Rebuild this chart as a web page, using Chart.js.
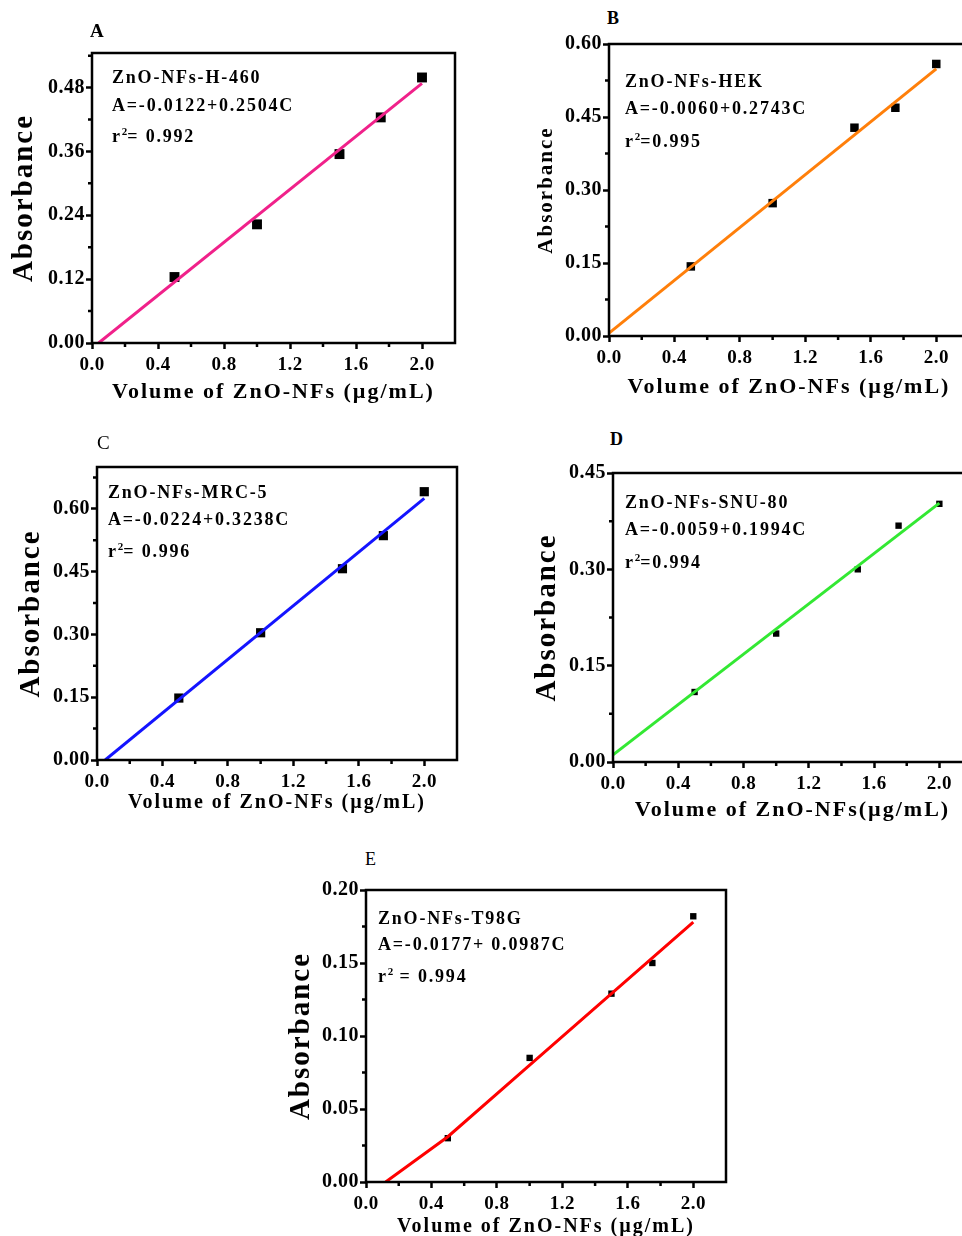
<!DOCTYPE html>
<html>
<head>
<meta charset="utf-8">
<title>ZnO-NFs calibration curves</title>
<script src="https://cdn.jsdelivr.net/npm/chart.js@4.4.1/dist/chart.umd.min.js"></script>
<style>
  body {
    margin: 0;
    width: 962px;
    height: 1236px;
    overflow: hidden;
    position: relative;
    background: #fff;
    font-family: "Liberation Serif", "Times New Roman", serif;
    color: #000;
  }
  .panel { position: absolute; }
  .tag { position: absolute; line-height: 20px; }
  .note {
    position: absolute;
    font-size: 18px;
    font-weight: bold;
    letter-spacing: 1.8px;
    line-height: 22px;
    white-space: nowrap;
  }
  .note sup { font-size: 11px; line-height: 0; vertical-align: 7px; letter-spacing: 0; }
</style>
</head>
<body>
<script>
// Doses shared by every panel (x axis)
const doses = [0.5, 1.0, 1.5, 1.75, 2.0];
const xTickLabels = ['0.0', '0.4', '0.8', '1.2', '1.6', '2.0'];

// Measured absorbance per cell line
const absH460 = [0.124, 0.223, 0.355, 0.424, 0.499];
const absHEK = [0.143, 0.273, 0.428, 0.469, 0.559];
const absMRC5 = [0.148, 0.304, 0.457, 0.536, 0.641];
const absSNU80 = [0.109, 0.200, 0.300, 0.368, 0.402];
const absT98G = [0.030, 0.085, 0.129, 0.150, 0.182];

// Fitted lines
const fitXH460 = [0.04, 2.0];
const fitYH460 = [0, 0.488];
const fitXHEK = [0, 2.0];
const fitYHEK = [0.006, 0.549];
const fitXMRC5 = [0.05, 2.0];
const fitYMRC5 = [0, 0.625];
const fitXSNU80 = [0, 2.0];
const fitYSNU80 = [0.011, 0.403];
const fitXT98G = [0.12, 0.5, 1.0, 2.0];
const fitYT98G = [0, 0.031, 0.080, 0.178];

// Y tick labels per panel
const yTicksH460 = ['0.00', '0.12', '0.24', '0.36', '0.48'];
const yTicksHEK = ['0.00', '0.15', '0.30', '0.45', '0.60'];
const yTicksMRC5 = ['0.00', '0.15', '0.30', '0.45', '0.60'];
const yTicksSNU80 = ['0.00', '0.15', '0.30', '0.45'];
const yTicksT98G = ['0.00', '0.05', '0.10', '0.15', '0.20'];

const FONT = '"Liberation Serif", "Times New Roman", serif';

// Layout of each panel on the page
const panels = [
  {
    tag: 'A', tagX: 90, tagY: 31, tagSize: 19, tagWeight: 'bold',
    box: [0, 40, 463, 370], axisW: 92, axisH: 67, padTop: 12, padRight: 8,
    yMax: 0.545, yStep: 0.06, yTicks: yTicksH460,
    yTitleSize: 29, yTitlePad: 7.6,
    xTitle: 'Volume of ZnO-NFs (µg/mL)', xTitleSize: 22, xTitlePad: 4.8,
    abs: absH460, fitX: fitXH460, fitY: fitYH460, color: '#f0218a', markR: 7,
    noteX: 112, noteY: [77, 105, 136],
    notes: ['ZnO-NFs-H-460', 'A=-0.0122+0.2504C', 'r<sup>2</sup>= 0.992']
  },
  {
    tag: 'B', tagX: 607, tagY: 18, tagSize: 18, tagWeight: 'bold',
    box: [525, 31, 452, 374], axisW: 84, axisH: 69, padTop: 12, padRight: 8,
    yMax: 0.60, yStep: 0.075, yTicks: yTicksHEK,
    yTitleSize: 21, yTitlePad: 9.4,
    xTitle: 'Volume of ZnO-NFs (µg/mL)', xTitleSize: 22, xTitlePad: 4.8,
    abs: absHEK, fitX: fitXHEK, fitY: fitYHEK, color: '#ff7f0a', markR: 6,
    noteX: 625, noteY: [81, 108, 141],
    notes: ['ZnO-NFs-HEK', 'A=-0.0060+0.2743C', 'r<sup>2</sup>=0.995']
  },
  {
    tag: 'C', tagX: 97, tagY: 443, tagSize: 19, tagWeight: 'normal',
    box: [0, 454, 465, 366], axisW: 97, axisH: 60, padTop: 12, padRight: 8,
    yMax: 0.70, yStep: 0.075, yTicks: yTicksMRC5,
    yTitleSize: 29, yTitlePad: 14.6,
    xTitle: 'Volume of ZnO-NFs (µg/mL)', xTitleSize: 20, xTitlePad: 5,
    abs: absMRC5, fitX: fitXMRC5, fitY: fitYMRC5, color: '#1414ff', markR: 6.5,
    noteX: 108, noteY: [492, 519, 551],
    notes: ['ZnO-NFs-MRC-5', 'A=-0.0224+0.3238C', 'r<sup>2</sup>= 0.996']
  },
  {
    tag: 'D', tagX: 610, tagY: 439, tagSize: 18, tagWeight: 'bold',
    box: [520, 460, 460, 368], axisW: 93, axisH: 66, padTop: 12, padRight: 8,
    yMax: 0.45, yStep: 0.075, yTicks: yTicksSNU80,
    yTitleSize: 29, yTitlePad: 10.6,
    xTitle: 'Volume of ZnO-NFs(µg/mL)', xTitleSize: 22, xTitlePad: 4.8,
    abs: absSNU80, fitX: fitXSNU80, fitY: fitYSNU80, color: '#33e833', markR: 4.5,
    noteX: 625, noteY: [502, 529, 562],
    notes: ['ZnO-NFs-SNU-80', 'A=-0.0059+0.1994C', 'r<sup>2</sup>=0.994']
  },
  {
    tag: 'E', tagX: 365, tagY: 859, tagSize: 18, tagWeight: 'normal',
    box: [280, 877, 454, 365], axisW: 86, axisH: 60, padTop: 12, padRight: 8,
    yMax: 0.20, yStep: 0.025, yTicks: yTicksT98G,
    yTitleSize: 29, yTitlePad: 4.6,
    xTitle: 'Volume of ZnO-NFs (µg/mL)', xTitleSize: 20, xTitlePad: 3,
    abs: absT98G, fitX: fitXT98G, fitY: fitYT98G, color: '#ff0000', markR: 4.5,
    noteX: 378, noteY: [918, 944, 976],
    notes: ['ZnO-NFs-T98G', 'A=-0.0177+ 0.0987C', 'r<sup>2</sup> = 0.994']
  }
];

// Letter spacing for titles and tick labels, frame box, short minor ticks
const framePlugin = {
  id: 'framePlugin',
  beforeDraw(chart) {
    chart.ctx.letterSpacing = '2px';
  },
  afterDatasetsDraw(chart) {
    // tick labels sit on a higher layer, drawn after this
    chart.ctx.letterSpacing = '0.5px';
  },
  afterDraw(chart) {
    const ctx = chart.ctx;
    const area = chart.chartArea;
    ctx.save();
    ctx.letterSpacing = '0px';
    ctx.strokeStyle = '#000';
    ctx.lineWidth = 2.5;
    ctx.strokeRect(area.left, area.top, area.right - area.left, area.bottom - area.top);

    ctx.lineWidth = 2.5;
    ctx.beginPath();
    [chart.scales.x, chart.scales.y].forEach((scale) => {
      const eps = (scale.max - scale.min) / 1000;
      scale.ticks.forEach((tick) => {
        if (tick.label !== '' || tick.value <= scale.min + eps || tick.value >= scale.max - eps) return;
        const p = scale.getPixelForValue(tick.value);
        if (scale.axis === 'x') {
          ctx.moveTo(p, area.bottom);
          ctx.lineTo(p, area.bottom + 4);
        } else {
          ctx.moveTo(area.left, p);
          ctx.lineTo(area.left - 4, p);
        }
      });
    });
    ctx.stroke();
    ctx.restore();
  }
};

function addText(cls, x, y, html, style) {
  const el = document.createElement('div');
  el.className = cls;
  el.style.left = x + 'px';
  el.style.top = y + 'px';
  Object.assign(el.style, style || {});
  el.innerHTML = html;
  document.body.appendChild(el);
}

function makePanel(p) {
  const [left, top, width, height] = p.box;
  const holder = document.createElement('div');
  holder.className = 'panel';
  holder.style.left = left + 'px';
  holder.style.top = top + 'px';
  holder.style.width = width + 'px';
  holder.style.height = height + 'px';
  const canvas = document.createElement('canvas');
  holder.appendChild(canvas);
  document.body.appendChild(holder);

  const points = doses.map((x, i) => ({ x: x, y: p.abs[i] }));
  const fit = p.fitX.map((x, i) => ({ x: x, y: p.fitY[i] }));
  const tickFont = (size) => ({ family: FONT, size: size, weight: 'bold', lineHeight: 1.2 });
  const majorColor = (c) => (c.tick && c.tick.label !== '' ? '#000' : 'rgba(0,0,0,0)');

  new Chart(canvas, {
    type: 'scatter',
    data: {
      datasets: [
        {
          label: 'fit',
          data: fit,
          showLine: true,
          borderColor: p.color,
          borderWidth: 3,
          pointRadius: 0,
          tension: 0,
          order: 0
        },
        {
          label: 'measured',
          data: points,
          pointStyle: 'rect',
          pointRadius: p.markR,
          pointBackgroundColor: '#000',
          pointBorderColor: '#000',
          pointBorderWidth: 0,
          order: 1
        }
      ]
    },
    options: {
      responsive: true,
      maintainAspectRatio: false,
      animation: false,
      layout: { padding: { left: 0, top: p.padTop, right: p.padRight, bottom: 0 } },
      plugins: {
        legend: { display: false },
        tooltip: { enabled: false }
      },
      scales: {
        x: {
          type: 'linear',
          min: 0,
          max: 2.2,
          bounds: 'data',
          afterFit: (s) => { s.height = p.axisH; },
          border: { display: false },
          grid: { drawOnChartArea: false, tickLength: 6, tickWidth: 2.5, tickColor: majorColor },
          ticks: {
            stepSize: 0.2,
            includeBounds: false,
            autoSkip: false,
            maxRotation: 0,
            padding: 5,
            color: '#000',
            z: 1,
            font: tickFont(19),
            callback: (v) => {
              const label = Number(v).toFixed(1);
              return xTickLabels.includes(label) ? label : '';
            }
          },
          title: {
            display: true,
            text: p.xTitle,
            color: '#000',
            font: { family: FONT, size: p.xTitleSize, weight: 'bold', lineHeight: 1.2 },
            padding: { top: 0, bottom: p.xTitlePad }
          }
        },
        y: {
          type: 'linear',
          min: 0,
          max: p.yMax,
          bounds: 'data',
          afterFit: (s) => { s.width = p.axisW; },
          border: { display: false },
          grid: { drawOnChartArea: false, tickLength: 6, tickWidth: 2.5, tickColor: majorColor },
          ticks: {
            stepSize: p.yStep,
            includeBounds: false,
            autoSkip: false,
            padding: 1,
            color: '#000',
            z: 1,
            font: tickFont(20),
            callback: (v) => {
              const label = Number(v).toFixed(2);
              return p.yTicks.includes(label) ? label : '';
            }
          },
          title: {
            display: true,
            text: 'Absorbance',
            color: '#000',
            font: { family: FONT, size: p.yTitleSize, weight: 'bold', lineHeight: 1.2 },
            padding: { top: p.yTitlePad, bottom: 0 }
          }
        }
      }
    },
    plugins: [framePlugin]
  });

  // panel letter and the fit annotation
  addText('tag', p.tagX, p.tagY - 10, p.tag, { fontSize: p.tagSize + 'px', fontWeight: p.tagWeight });
  p.notes.forEach((line, i) => {
    addText('note', p.noteX, p.noteY[i] - 11, line);
  });
}

panels.forEach(makePanel);
</script>
</body>
</html>
